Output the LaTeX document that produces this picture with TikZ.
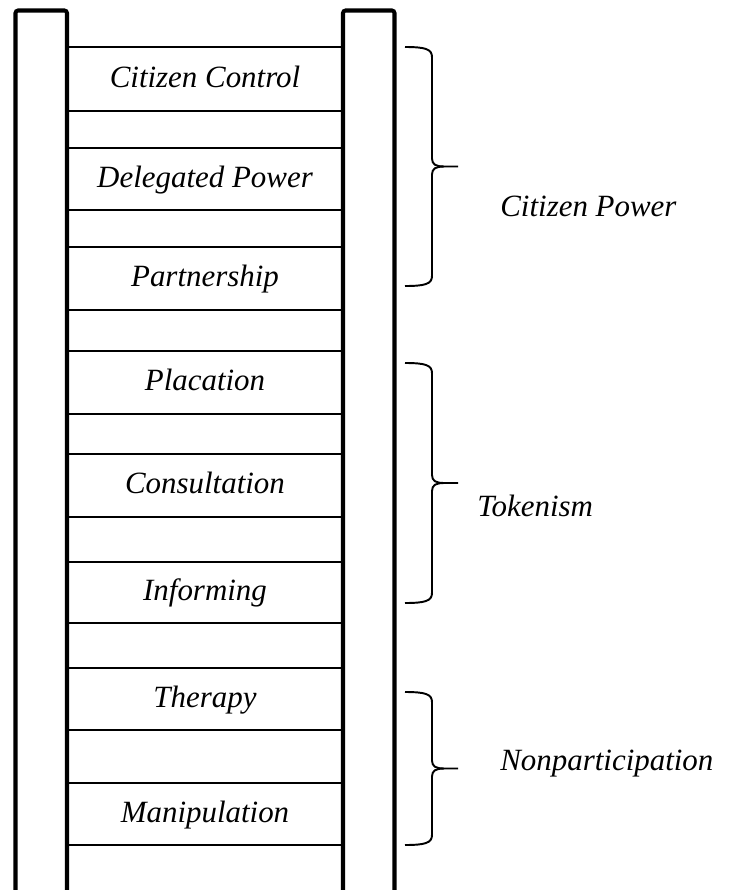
\documentclass[tikz,border=0pt]{standalone}
\usepackage{fontspec}
\setmainfont{Liberation Serif}
\usetikzlibrary{positioning}
\definecolor{ink}{HTML}{000000}
\tikzset{
  every node/.style={font=\fontsize{17.6}{21}\selectfont\itshape, inner sep=0pt, text=ink},
  rail/.style={draw=ink, line width=2.3pt, rounded corners=1.5pt},
  rung/.style={draw=ink, line width=0.6pt},
  rungtext/.style={anchor=base},
  brace/.style={draw=ink, line width=1.1pt},
  grouplabel/.style={anchor=base west},
}
% curly brace: top, bottom, middle
\newcommand{\ladderbrace}[3]{%
  \draw[brace] (405,#1) .. controls (425,#1) and (432,#1+2) .. (432,#1+10) -- (432,#3-8)
    .. controls (432,#3-2) and (436,#3) .. (444,#3) -- (458,#3);
  \draw[brace] (444,#3) .. controls (436,#3) and (432,#3+2) .. (432,#3+8) -- (432,#2-10)
    .. controls (432,#2-2) and (425,#2) .. (405,#2);
}

\begin{document}
\begin{tikzpicture}[x=0.02cm, y=-0.02cm]
\useasboundingbox (0,0) rectangle (728,890);
% rungs
\foreach \y in {47,111,148,210,247,310,351,414,454,517,562,623,668,730,783,845}
  \draw[rung] (67,\y) -- (343,\y);
% rails
\draw[rail] (15.5,892) -- (15.5,10.5) -- (67,10.5) -- (67,892);
\draw[rail] (343,892) -- (343,10.5) -- (394.5,10.5) -- (394.5,892);
% rung labels
\foreach \y/\name/\txt in {79/control/Citizen Control, 179/delegated/Delegated Power,
    278.5/partner/Partnership, 382/placation/Placation, 485.5/consult/Consultation,
    592.5/inform/Informing, 699/therapy/Therapy, 814/manip/Manipulation}
  \node[rungtext] (\name) at (205,{\y+8}) {\txt};
% groups
\ladderbrace{47}{286}{166.5}
\ladderbrace{363}{603}{483}
\ladderbrace{692}{845}{768.5}
\node[grouplabel] (power) at (500,216) {Citizen Power};
\node[grouplabel] (token) at (477,516) {Tokenism};
\node[grouplabel] (nonpart) at (500,770) {Nonparticipation};
\end{tikzpicture}
\end{document}
